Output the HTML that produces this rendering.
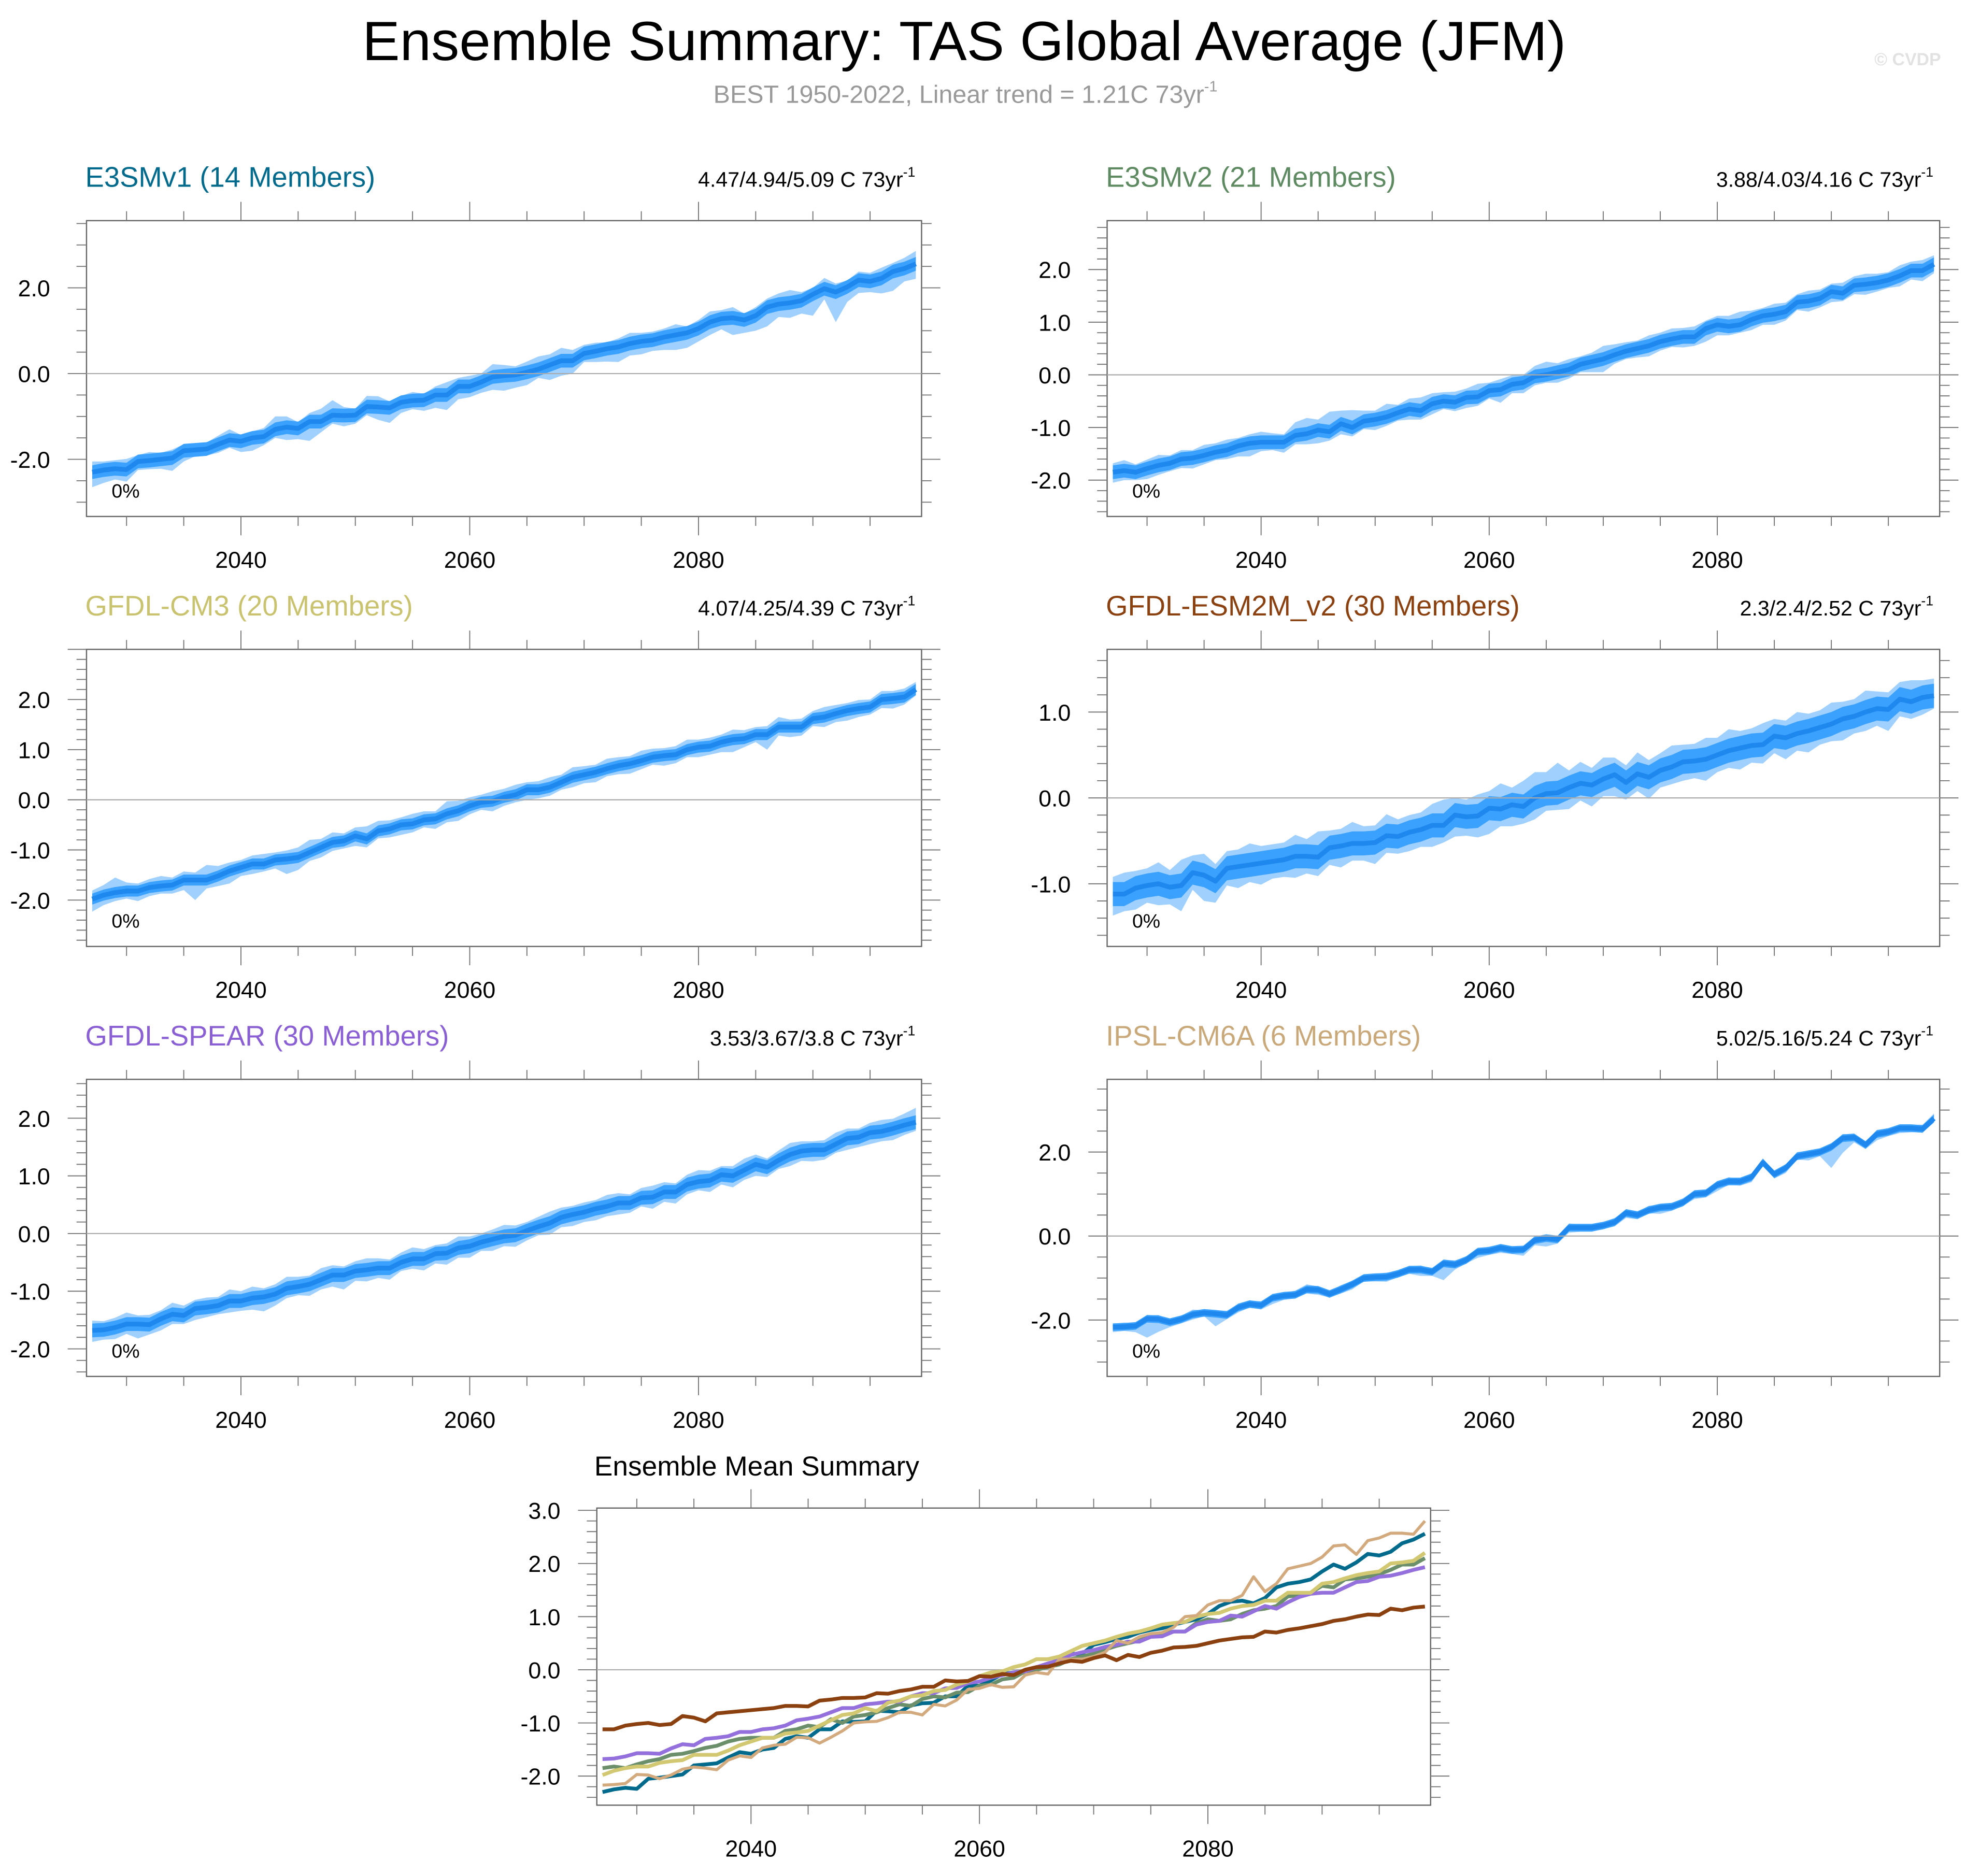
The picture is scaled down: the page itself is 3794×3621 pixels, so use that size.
<!DOCTYPE html>
<html><head><meta charset="utf-8"><style>
html,body{margin:0;padding:0;background:#fff}
svg{display:block;font-family:"Liberation Sans",Arial,sans-serif}
</style></head><body>
<svg id="chart" xmlns="http://www.w3.org/2000/svg" width="3794" height="3621" viewBox="0 0 1568 1496.5">
<rect width="1568" height="1496.5" fill="#fff"/>
<text x="769" y="48" font-size="44" text-anchor="middle" textLength="960" lengthAdjust="spacingAndGlyphs">Ensemble Summary: TAS Global Average (JFM)</text>
<text x="770" y="82" font-size="20" fill="#999" text-anchor="middle">BEST 1950-2022, Linear trend = 1.21C 73yr<tspan font-size="12" dy="-9">-1</tspan></text>
<text x="1548" y="52" font-size="14" font-weight="bold" fill="#e2e2e2" text-anchor="end">© CVDP</text>
<g id="plots"></g>
</svg>
<script>
const startYear = 2027;
const modelNames = ["E3SMv1","E3SMv2","GFDL-CM3","GFDL-ESM2M_v2","GFDL-SPEAR","IPSL-CM6A"];
const memberCounts = [14,21,20,30,30,6];
const trendLabels = ["4.47/4.94/5.09 C 73yr","3.88/4.03/4.16 C 73yr","4.07/4.25/4.39 C 73yr","2.3/2.4/2.52 C 73yr","3.53/3.67/3.8 C 73yr","5.02/5.16/5.24 C 73yr"];
const xTickLabels = [2040,2060,2080];
const meanE3SMv1 = [-2.30,-2.25,-2.22,-2.24,-2.05,-2.03,-2.00,-1.97,-1.80,-1.78,-1.76,-1.65,-1.55,-1.58,-1.50,-1.47,-1.30,-1.25,-1.28,-1.12,-1.12,-0.97,-0.98,-0.97,-0.77,-0.78,-0.80,-0.67,-0.63,-0.62,-0.50,-0.50,-0.30,-0.30,-0.20,-0.08,-0.05,-0.03,0.03,0.10,0.20,0.30,0.30,0.47,0.52,0.58,0.62,0.70,0.75,0.78,0.85,0.90,0.95,1.05,1.20,1.28,1.30,1.25,1.35,1.55,1.62,1.65,1.70,1.85,1.98,1.90,2.02,2.18,2.15,2.22,2.38,2.45,2.56];
const meanE3SMv2 = [-1.85,-1.82,-1.85,-1.78,-1.72,-1.68,-1.6,-1.58,-1.53,-1.47,-1.43,-1.35,-1.3,-1.28,-1.28,-1.28,-1.15,-1.12,-1.05,-1.08,-0.93,-1.0,-0.88,-0.85,-0.8,-0.72,-0.65,-0.68,-0.55,-0.5,-0.52,-0.43,-0.42,-0.3,-0.28,-0.18,-0.15,-0.03,0.0,0.05,0.1,0.2,0.25,0.3,0.38,0.45,0.5,0.55,0.63,0.68,0.72,0.72,0.88,0.95,0.92,0.95,1.05,1.12,1.15,1.2,1.38,1.4,1.45,1.58,1.55,1.7,1.72,1.75,1.8,1.88,1.98,1.98,2.1];
const meanCM3 = [-1.98,-1.9,-1.85,-1.82,-1.82,-1.75,-1.72,-1.7,-1.6,-1.6,-1.6,-1.52,-1.42,-1.35,-1.28,-1.28,-1.2,-1.18,-1.15,-1.05,-0.95,-0.85,-0.82,-0.72,-0.78,-0.62,-0.58,-0.5,-0.48,-0.4,-0.38,-0.28,-0.22,-0.12,-0.05,-0.03,0.05,0.1,0.2,0.2,0.25,0.35,0.45,0.5,0.55,0.62,0.68,0.72,0.78,0.85,0.88,0.9,1.0,1.05,1.07,1.15,1.2,1.22,1.3,1.3,1.45,1.45,1.45,1.62,1.65,1.72,1.78,1.82,1.85,2.0,2.02,2.05,2.2];
const meanESM2M = [-1.12,-1.12,-1.05,-1.02,-1.0,-1.04,-1.02,-0.87,-0.9,-0.97,-0.82,-0.8,-0.78,-0.76,-0.74,-0.72,-0.68,-0.68,-0.69,-0.58,-0.56,-0.53,-0.53,-0.52,-0.44,-0.45,-0.4,-0.37,-0.32,-0.32,-0.2,-0.22,-0.21,-0.12,-0.13,-0.08,-0.1,0.0,0.05,0.06,0.12,0.17,0.15,0.22,0.27,0.18,0.28,0.24,0.32,0.36,0.42,0.43,0.45,0.5,0.55,0.58,0.61,0.62,0.72,0.7,0.75,0.78,0.82,0.86,0.92,0.95,1.0,1.04,1.03,1.15,1.12,1.17,1.19];
const meanSPEAR = [-1.68,-1.67,-1.63,-1.57,-1.57,-1.58,-1.48,-1.4,-1.42,-1.3,-1.28,-1.25,-1.17,-1.17,-1.12,-1.1,-1.05,-0.95,-0.92,-0.88,-0.8,-0.72,-0.72,-0.65,-0.63,-0.6,-0.6,-0.5,-0.44,-0.44,-0.35,-0.34,-0.25,-0.22,-0.15,-0.1,-0.05,-0.03,0.05,0.12,0.18,0.28,0.33,0.37,0.43,0.47,0.53,0.53,0.62,0.63,0.72,0.72,0.85,0.9,0.92,1.02,1.0,1.1,1.2,1.15,1.27,1.37,1.43,1.45,1.45,1.55,1.65,1.67,1.75,1.77,1.82,1.88,1.93];
const meanIPSL = [-2.17,-2.16,-2.14,-1.97,-1.98,-2.05,-1.98,-1.87,-1.83,-1.85,-1.88,-1.7,-1.62,-1.65,-1.47,-1.42,-1.4,-1.27,-1.28,-1.38,-1.27,-1.15,-1.0,-0.98,-0.97,-0.9,-0.8,-0.8,-0.85,-0.65,-0.68,-0.57,-0.37,-0.35,-0.28,-0.33,-0.32,-0.1,-0.05,-0.08,0.2,0.2,0.2,0.25,0.33,0.55,0.5,0.62,0.68,0.7,0.8,1.0,1.02,1.22,1.3,1.3,1.4,1.75,1.47,1.62,1.9,1.95,2.0,2.12,2.33,2.35,2.17,2.43,2.48,2.57,2.57,2.55,2.8];
const innerHalf = [0.16,0.13,0.11,0.14,0.12,0.09];
const lowE3SMv1 = [0.35,0.3,0.25,0.28,0.2,0.2,0.22,0.3,0.25,0.15,0.15,0.2,0.18,0.25,0.3,0.2,0.2,0.3,0.25,0.45,0.25,0.2,0.25,0.2,0.2,0.3,0.35,0.25,0.2,0.25,0.3,0.35,0.3,0.25,0.25,0.3,0.35,0.3,0.3,0.2,0.35,0.35,0.3,0.2,0.25,0.3,0.35,0.28,0.3,0.25,0.3,0.35,0.35,0.3,0.3,0.25,0.4,0.3,0.35,0.45,0.3,0.35,0.3,0.5,0.25,0.7,0.35,0.3,0.25,0.35,0.45,0.3,0.35];
const highE3SMv1 = [0.25,0.2,0.2,0.25,0.15,0.2,0.15,0.2,0.15,0.12,0.15,0.2,0.25,0.15,0.15,0.2,0.3,0.25,0.15,0.2,0.3,0.35,0.2,0.15,0.25,0.25,0.15,0.15,0.2,0.15,0.2,0.3,0.2,0.25,0.2,0.3,0.25,0.2,0.25,0.3,0.25,0.3,0.25,0.2,0.2,0.15,0.2,0.25,0.2,0.2,0.2,0.25,0.15,0.2,0.25,0.2,0.25,0.15,0.2,0.2,0.25,0.3,0.2,0.15,0.25,0.2,0.15,0.2,0.2,0.25,0.2,0.25,0.3];
const lowE3SMv2 = [0.2,0.18,0.15,0.2,0.18,0.15,0.17,0.2,0.17,0.15,0.17,0.2,0.25,0.17,0.15,0.2,0.17,0.2,0.25,0.17,0.2,0.17,0.15,0.2,0.17,0.15,0.2,0.17,0.2,0.15,0.17,0.2,0.17,0.15,0.25,0.17,0.2,0.17,0.15,0.2,0.17,0.15,0.2,0.25,0.17,0.15,0.17,0.2,0.17,0.15,0.2,0.17,0.25,0.2,0.17,0.15,0.2,0.17,0.2,0.17,0.15,0.2,0.17,0.2,0.15,0.17,0.2,0.17,0.15,0.2,0.17,0.2,0.17];
const highE3SMv2 = [0.17,0.2,0.15,0.17,0.2,0.15,0.17,0.15,0.2,0.17,0.2,0.15,0.17,0.2,0.17,0.15,0.25,0.3,0.2,0.38,0.25,0.33,0.2,0.17,0.25,0.15,0.2,0.25,0.2,0.17,0.2,0.17,0.25,0.15,0.2,0.17,0.15,0.2,0.25,0.17,0.2,0.15,0.17,0.25,0.2,0.17,0.15,0.2,0.17,0.2,0.17,0.2,0.15,0.17,0.2,0.25,0.17,0.15,0.2,0.17,0.15,0.2,0.17,0.15,0.2,0.17,0.2,0.17,0.15,0.2,0.17,0.2,0.17];
const lowCM3 = [0.25,0.2,0.17,0.15,0.2,0.17,0.15,0.17,0.2,0.4,0.17,0.2,0.25,0.17,0.2,0.15,0.17,0.3,0.25,0.17,0.2,0.17,0.15,0.2,0.17,0.15,0.17,0.2,0.17,0.15,0.2,0.17,0.2,0.17,0.15,0.2,0.17,0.15,0.2,0.17,0.17,0.15,0.2,0.17,0.2,0.15,0.17,0.2,0.17,0.15,0.2,0.17,0.15,0.2,0.17,0.2,0.25,0.17,0.15,0.3,0.17,0.2,0.17,0.15,0.2,0.17,0.2,0.17,0.15,0.17,0.2,0.15,0.12];
const highCM3 = [0.17,0.2,0.3,0.17,0.15,0.17,0.2,0.15,0.17,0.15,0.3,0.2,0.17,0.15,0.17,0.2,0.15,0.17,0.2,0.25,0.17,0.2,0.15,0.17,0.25,0.2,0.17,0.15,0.2,0.17,0.15,0.25,0.2,0.17,0.15,0.2,0.17,0.2,0.15,0.17,0.2,0.15,0.2,0.17,0.15,0.2,0.17,0.15,0.2,0.17,0.15,0.17,0.2,0.15,0.17,0.15,0.2,0.17,0.15,0.17,0.2,0.15,0.17,0.15,0.2,0.17,0.15,0.17,0.15,0.17,0.15,0.17,0.15];
const lowESM2M = [0.25,0.2,0.25,0.2,0.25,0.2,0.3,0.2,0.3,0.25,0.2,0.25,0.2,0.25,0.2,0.2,0.25,0.2,0.22,0.2,0.25,0.2,0.2,0.25,0.2,0.2,0.22,0.2,0.25,0.2,0.25,0.22,0.25,0.3,0.2,0.25,0.2,0.25,0.2,0.2,0.25,0.2,0.25,0.2,0.25,0.2,0.2,0.25,0.2,0.2,0.22,0.2,0.25,0.2,0.2,0.25,0.2,0.22,0.2,0.25,0.2,0.25,0.2,0.2,0.25,0.2,0.22,0.2,0.25,0.2,0.2,0.2,0.15];
const highESM2M = [0.2,0.25,0.2,0.2,0.25,0.2,0.3,0.2,0.25,0.2,0.2,0.2,0.25,0.2,0.2,0.2,0.25,0.2,0.3,0.2,0.2,0.25,0.2,0.2,0.25,0.2,0.2,0.2,0.25,0.3,0.2,0.2,0.25,0.2,0.3,0.2,0.3,0.3,0.25,0.35,0.2,0.25,0.2,0.25,0.2,0.2,0.25,0.2,0.2,0.25,0.2,0.2,0.25,0.2,0.25,0.2,0.2,0.25,0.2,0.2,0.25,0.2,0.2,0.25,0.2,0.2,0.25,0.2,0.2,0.2,0.25,0.2,0.2];
const lowSPEAR = [0.2,0.17,0.2,0.17,0.25,0.17,0.2,0.17,0.15,0.2,0.17,0.15,0.2,0.17,0.2,0.25,0.2,0.17,0.15,0.2,0.17,0.2,0.25,0.17,0.2,0.17,0.2,0.15,0.17,0.2,0.17,0.2,0.17,0.2,0.15,0.2,0.17,0.2,0.17,0.15,0.2,0.17,0.2,0.17,0.2,0.17,0.2,0.17,0.15,0.2,0.17,0.2,0.17,0.15,0.2,0.17,0.2,0.17,0.2,0.17,0.15,0.2,0.17,0.2,0.17,0.15,0.2,0.17,0.2,0.17,0.2,0.17,0.15];
const highSPEAR = [0.17,0.15,0.17,0.2,0.15,0.17,0.15,0.2,0.17,0.15,0.17,0.15,0.2,0.17,0.2,0.15,0.17,0.2,0.17,0.15,0.2,0.17,0.15,0.17,0.2,0.17,0.15,0.17,0.2,0.17,0.15,0.17,0.2,0.17,0.15,0.17,0.2,0.17,0.15,0.17,0.2,0.17,0.15,0.17,0.15,0.2,0.17,0.15,0.17,0.2,0.17,0.15,0.17,0.2,0.17,0.15,0.17,0.2,0.17,0.15,0.17,0.2,0.17,0.15,0.17,0.2,0.17,0.15,0.17,0.2,0.17,0.2,0.25];
const lowIPSL = [0.12,0.1,0.15,0.45,0.3,0.12,0.1,0.12,0.08,0.3,0.1,0.12,0.08,0.1,0.15,0.1,0.08,0.1,0.12,0.08,0.1,0.12,0.08,0.1,0.12,0.08,0.1,0.15,0.1,0.4,0.12,0.08,0.15,0.1,0.12,0.1,0.15,0.12,0.2,0.1,0.12,0.1,0.1,0.08,0.1,0.12,0.1,0.08,0.15,0.1,0.08,0.12,0.1,0.15,0.08,0.1,0.12,0.08,0.1,0.12,0.08,0.15,0.1,0.5,0.35,0.12,0.1,0.15,0.1,0.12,0.1,0.08,0.1];
const highIPSL = [0.08,0.1,0.06,0.08,0.1,0.06,0.08,0.12,0.06,0.08,0.1,0.08,0.06,0.1,0.08,0.06,0.1,0.12,0.08,0.06,0.1,0.08,0.06,0.08,0.1,0.06,0.08,0.1,0.06,0.08,0.1,0.08,0.06,0.1,0.08,0.06,0.08,0.1,0.06,0.08,0.1,0.08,0.06,0.08,0.1,0.06,0.08,0.1,0.06,0.08,0.1,0.08,0.06,0.08,0.1,0.06,0.08,0.1,0.06,0.08,0.1,0.08,0.06,0.08,0.1,0.06,0.08,0.1,0.08,0.06,0.08,0.1,0.12];

const means=[meanE3SMv1,meanE3SMv2,meanCM3,meanESM2M,meanSPEAR,meanIPSL];
const lows=[lowE3SMv1,lowE3SMv2,lowCM3,lowESM2M,lowSPEAR,lowIPSL];
const highs=[highE3SMv1,highE3SMv2,highCM3,highESM2M,highSPEAR,highIPSL];
const titleColors=["#006a8c","#5e8a62","#c9c26e","#8b4010","#8a5fd4","#c9a87a"];
const lineColors=["#006a8c","#6b8e6b","#d2c872","#8b4010","#9370db","#d2aa7d"];
const panels=[
 {L:69,R:735,T:176,B:412,z:298,u:34.2,maj:2,min:0.5,yt:[-2,0,2]},
 {L:883,R:1547,T:176,B:412,z:299,u:42,maj:1,min:0.2,yt:[-2,-1,0,1,2]},
 {L:69,R:735,T:518,B:755,z:638,u:40,maj:1,min:0.2,yt:[-2,-1,0,1,2]},
 {L:883,R:1547,T:518,B:755,z:636.5,u:68.5,maj:1,min:0.2,yt:[-1,0,1]},
 {L:69,R:735,T:861,B:1098,z:984,u:46,maj:1,min:0.2,yt:[-2,-1,0,1,2]},
 {L:883,R:1547,T:861,B:1098,z:986,u:33.5,maj:2,min:0.5,yt:[-2,0,2]}
];
const meanPanel={L:476,R:1141,T:1203,B:1440,z:1332,u:42.4,maj:1,min:0.2,yt:[-2,-1,0,1,2,3]};
const NS="http://www.w3.org/2000/svg";
const root=document.getElementById('plots');
function mk(tag,attrs,parent){const e=document.createElementNS(NS,tag);for(const k in attrs)e.setAttribute(k,attrs[k]);(parent||root).appendChild(e);return e;}
function xs(p,yr){return p.L+(yr-2026.5)/73*(p.R-p.L);}
function ys(p,v){return p.z-v*p.u;}
function fmt(v){return v.toFixed(1);}
function axes(p,g,name){
  const box=mk('rect',{x:p.L,y:p.T,width:p.R-p.L,height:p.B-p.T,fill:'none',stroke:'#666','stroke-width':1},g);
  
  
  mk('line',{x1:p.L,x2:p.R,y1:ys(p,0),y2:ys(p,0),stroke:'#aaa','stroke-width':0.9},g);
  for(let yr=2030;yr<=2095;yr+=5){
    const major=xTickLabels.indexOf(yr)>=0, len=major?15:7.5, x=xs(p,yr);
    mk('line',{x1:x,x2:x,y1:p.T,y2:p.T-len,stroke:'#777','stroke-width':0.8},g);
    mk('line',{x1:x,x2:x,y1:p.B,y2:p.B+len,stroke:'#777','stroke-width':0.8},g);
  }
  xTickLabels.forEach(yr=>{
    const t=mk('text',{x:xs(p,yr),y:p.B+41,'font-size':18.5,'text-anchor':'middle'},g);
    
    
    t.textContent=yr;
  });
  const vmin=(p.z-p.B)/p.u, vmax=(p.z-p.T)/p.u;
  const n0=Math.ceil(vmin/p.min-1e-6), n1=Math.floor(vmax/p.min+1e-6);
  for(let n=n0;n<=n1;n++){
    const v=n*p.min, y=ys(p,v), major=Math.abs(v/p.maj-Math.round(v/p.maj))<1e-6;
    const len=major?15:8;
    mk('line',{x1:p.L,x2:p.L-len,y1:y,y2:y,stroke:'#777','stroke-width':0.8},g);
    mk('line',{x1:p.R,x2:p.R+len,y1:y,y2:y,stroke:'#777','stroke-width':0.8},g);
  }
  p.yt.forEach(v=>{
    const t=mk('text',{x:p.L-29,y:ys(p,v)+6.8,'font-size':18.5,'text-anchor':'end'},g);
    
    
    t.textContent=fmt(v);
  });
}
function pts(p,arr,off){return arr.map((v,i)=>xs(p,startYear+i).toFixed(2)+','+ys(p,v+off(i)).toFixed(2));}
panels.forEach((p,k)=>{
  const g=mk('g',{});
  const nm=modelNames[k].toLowerCase().replace(/[^a-z0-9]+/g,'-');
  
  
  const m=means[k], lo=lows[k], hi=highs[k], w=innerHalf[k];
  const outer=mk('polygon',{points:pts(p,m,i=>hi[i]).concat(pts(p,m,i=>-lo[i]).reverse()).join(' '),fill:'#9fd0fe'},g);
  
  
  const inner=mk('polygon',{points:pts(p,m,i=>w).concat(pts(p,m,i=>-w).reverse()).join(' '),fill:'#3aa1fe'},g);
  
  
  const ln=mk('polyline',{points:pts(p,m,i=>0).join(' '),fill:'none',stroke:'#1e88ee','stroke-width':3.8,'stroke-linejoin':'round'},g);
  
  
  axes(p,g,nm);
  const t=mk('text',{x:p.L-1,y:p.T-27,'font-size':22.5,fill:titleColors[k]},g);
  
  
  t.textContent=modelNames[k]+' ('+memberCounts[k]+' Members)';
  const r=mk('text',{x:p.R-5,y:p.T-27,'font-size':17,'text-anchor':'end'},g);
  
  
  r.textContent=trendLabels[k];
  const s=mk('tspan',{'font-size':11,dy:-8},r); s.textContent='-1';
  const pc=mk('text',{x:p.L+20,y:p.B-15,'font-size':15.5},g);
  
  
  pc.textContent='0%';
});
(function(){
  const p=meanPanel;
  const g=mk('g',{});
  
  
  axes(p,g,'ensemble-mean');
  const order=[0,1,4,2,5,3];
  order.forEach(k=>{
    const ln=mk('polyline',{points:pts(p,means[k],i=>0).join(' '),fill:'none',stroke:lineColors[k],'stroke-width':k===5?2.4:3,'stroke-linejoin':'round'},g);
    
    
  });
  const t=mk('text',{x:474,y:1177,'font-size':22},g);
  
  
  t.textContent='Ensemble Mean Summary';
})();
</script>
</body></html>
